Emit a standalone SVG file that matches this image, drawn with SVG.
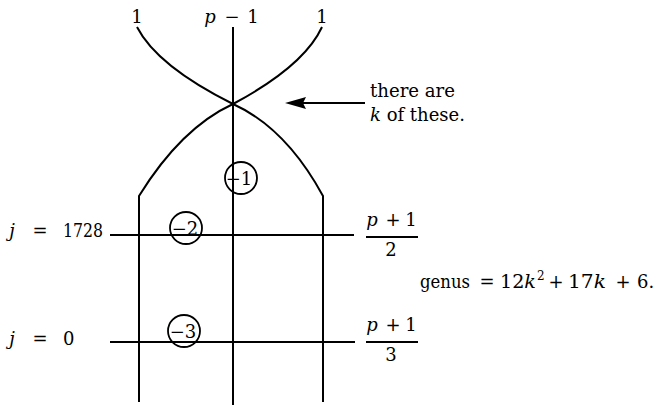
<svg xmlns="http://www.w3.org/2000/svg" width="664" height="406" viewBox="0 0 664 406">
<style>
text{font-size:18px;fill:#000}
.i{font-style:italic}
.m{text-anchor:middle}
.ln{stroke:#000;stroke-width:2;fill:none}
.c{stroke:#000;stroke-width:1.8;fill:none}
.sup{font-size:12px}
</style>
<rect width="664" height="406" fill="#fff"/>
<g id="connectors">
<path class="ln" d="M233,27 V405"/>
<path class="ln" d="M137,27 Q157,66 233,104"/>
<path class="ln" d="M322,27 Q304,66 233,104"/>
<path class="ln" d="M233,104 Q181,128 139,196 V402"/>
<path class="ln" d="M233,104 Q286,128 323,196 V402"/>
<path class="ln" d="M110,235 H354"/>
<path class="ln" d="M110,342 H355"/>
<path class="ln" d="M365,103 H300"/>
<polygon points="285,103 306,97 303,103 306,109" fill="#000"/>
</g>
<g font-family="DejaVu Serif">
<g id="top-labels">
<text class="m" x="137" y="23">1</text>
<text class="m i" x="210" y="23">p</text>
<text class="m" x="232" y="23">−</text>
<text class="m" x="253" y="23">1</text>
<text class="m" x="322" y="23">1</text>
</g>
<g id="note">
<text x="370" y="97" textLength="85" lengthAdjust="spacingAndGlyphs">there are</text>
<text x="370" y="121" textLength="95" lengthAdjust="spacingAndGlyphs"><tspan class="i">k</tspan> of these.</text>
</g>
<g id="node-m1">
<circle class="c" cx="241" cy="178" r="16"/>
<text class="m" x="239" y="185">−1</text>
</g>
<g id="node-m2">
<circle class="c" cx="186" cy="228" r="16"/>
<text class="m" x="185" y="235">−2</text>
</g>
<g id="node-m3">
<circle class="c" cx="184" cy="331" r="16"/>
<text class="m" x="183" y="338">−3</text>
</g>
<g id="label-j1728">
<text class="m i" x="12" y="237">j</text>
<text class="m" x="40" y="237">=</text>
<text x="63" y="237" textLength="40" lengthAdjust="spacingAndGlyphs">1728</text>
</g>
<g id="label-j0">
<text class="m i" x="12" y="345">j</text>
<text class="m" x="40" y="345">=</text>
<text x="63" y="345">0</text>
</g>
<g id="frac-2">
<text class="m i" x="372" y="226">p</text>
<text class="m" x="393" y="226">+</text>
<text class="m" x="411" y="226">1</text>
<path class="ln" d="M366,237 H418" stroke-width="1.5"/>
<text class="m" x="391" y="256">2</text>
</g>
<g id="frac-3">
<text class="m i" x="372" y="331">p</text>
<text class="m" x="393" y="331">+</text>
<text class="m" x="411" y="331">1</text>
<path class="ln" d="M366,342 H418" stroke-width="1.5"/>
<text class="m" x="391" y="361">3</text>
</g>
<g id="genus">
<text x="420" y="288" textLength="50" lengthAdjust="spacingAndGlyphs">genus</text>
<text class="m" x="487" y="288">=</text>
<text x="500" y="288" textLength="36" lengthAdjust="spacingAndGlyphs">12<tspan class="i">k</tspan></text>
<text class="sup" x="537" y="280">2</text>
<text class="m" x="556" y="288">+</text>
<text x="568" y="288" textLength="38" lengthAdjust="spacingAndGlyphs">17<tspan class="i">k</tspan></text>
<text class="m" x="623" y="288">+</text>
<text x="637" y="288">6.</text>
</g>
</g>
</svg>
